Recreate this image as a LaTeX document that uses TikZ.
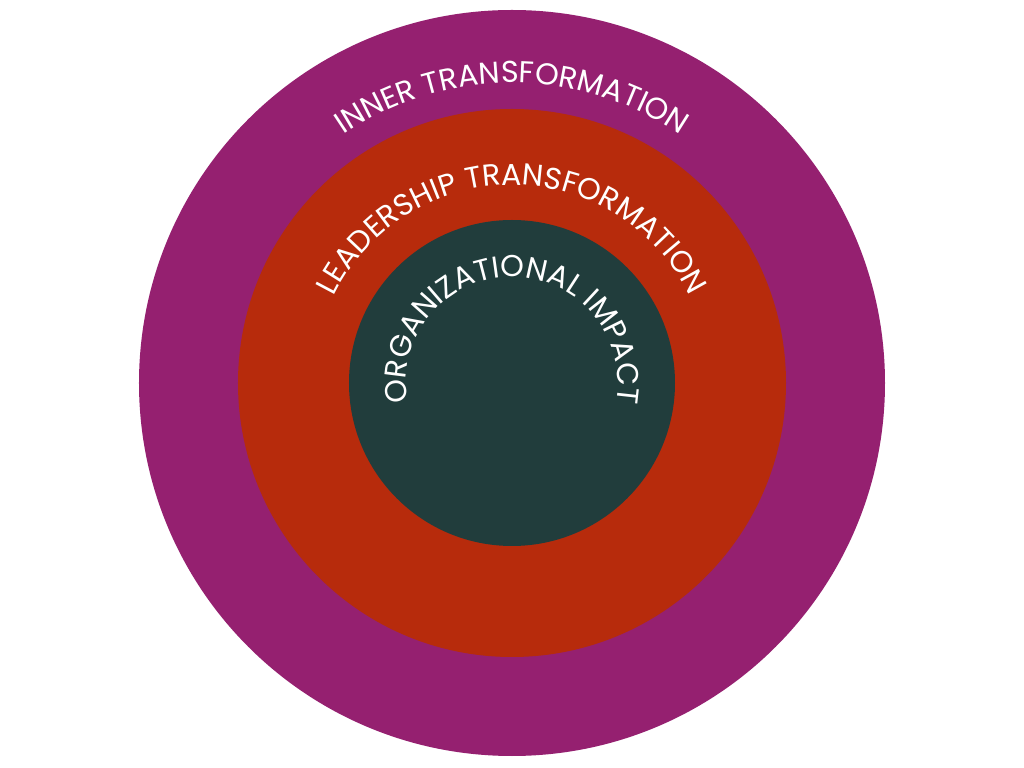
\documentclass[tikz,border=0pt]{standalone}
\usepackage{fontspec}
\setmainfont{Poppins}
\usepackage{xcolor}
\usepackage{tikz}
\usetikzlibrary{decorations.text}

\definecolor{innerpurple}{HTML}{952070}
\definecolor{leadred}{HTML}{B72B0C}
\definecolor{orgteal}{HTML}{213D3C}

\newcommand{\ringfont}{\color{white}\fontsize{21.5}{21.5}\selectfont}

\begin{document}
\begin{tikzpicture}[
    ring/.style={fill=#1},
    ringtext/.style={decorate,decoration={text along path,text align=center,
        text={|\ringfont|#1}}}
  ]
  \useasboundingbox (-12.8,-9.625) rectangle (12.8,9.575);

  % rings, outside in
  \fill[ring=innerpurple] (0,0) circle (9.325);
  \fill[ring=leadred] (0,0) circle (6.85);
  \fill[ring=orgteal] (0,0) circle (4.075);

  % labels along the rings
  \path[ringtext={INNER TRANSFORMATION}] (160:7.5) arc[start angle=160,end angle=20,radius=7.5];
  \path[ringtext={LEADERSHIP TRANSFORMATION}] (178:4.95) arc[start angle=178,end angle=2,radius=4.95];
  \path[ringtext={ORGANIZATIONAL IMPACT}] (215:2.65) arc[start angle=215,end angle=-35,radius=2.65];
\end{tikzpicture}
\end{document}
